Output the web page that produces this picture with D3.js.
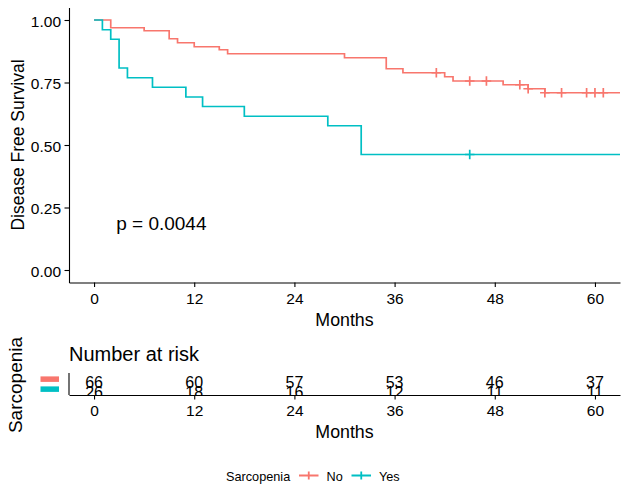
<!DOCTYPE html>
<html>
<head>
<meta charset="utf-8">
<script src="https://cdn.jsdelivr.net/npm/d3@7"></script>
<style>
  body { margin: 0; background: #fff; }
  svg { font-family: "Liberation Sans", Arial, sans-serif; }
</style>
</head>
<body>
<svg width="628" height="500"></svg>
<script>
// survival curves (months, survival probability)
const noTimes = [0, 2, 6, 9, 10, 12, 15, 16, 30, 35, 37, 42, 43, 49, 52, 54, 66];
const noSurv = [1, 0.969, 0.957, 0.925, 0.909, 0.893, 0.881, 0.865, 0.849, 0.805, 0.789, 0.773, 0.756, 0.741, 0.725, 0.709, 0.709];
const noCensor = [41, 45, 47, 51, 52, 54, 56, 59, 60, 61];

const yesTimes = [0, 1, 2, 3, 4, 7, 11, 13, 18, 28, 32, 66];
const yesSurv = [1, 0.961, 0.923, 0.808, 0.769, 0.731, 0.692, 0.654, 0.615, 0.577, 0.462, 0.462];
const yesCensor = [45];

const groups = ['No', 'Yes'];
const colors = ['#F8766D', '#00BFC4'];

const xTicks = [0, 12, 24, 36, 48, 60];
const yTicks = [0, 0.25, 0.5, 0.75, 1];
const riskNo = [66, 60, 57, 53, 46, 37];
const riskYes = [26, 18, 16, 12, 11, 11];
const pLabel = 'p = 0.0044';

const svg = d3.select('svg');
const font = 'Liberation Sans, Arial, sans-serif';

const x = d3.scaleLinear().domain([-3, 63]).range([69, 620]);
const y = d3.scaleLinear().domain([-0.05, 1.05]).range([282.5, 7.5]);

svg.append('clipPath').attr('id', 'panel')
  .append('rect')
    .attr('x', 69).attr('y', 7.5)
    .attr('width', 551).attr('height', 275);

const curves = [
  { times: noTimes, surv: noSurv, censor: noCensor },
  { times: yesTimes, surv: yesSurv, censor: yesCensor }
];

const line = d3.line()
  .x(d => x(d[0]))
  .y(d => y(d[1]))
  .curve(d3.curveStepAfter);

const plot = svg.append('g').attr('clip-path', 'url(#panel)');

curves.forEach((c, i) => {
  const pts = c.times.map((t, j) => [t, c.surv[j]]);
  plot.append('path')
    .attr('d', line(pts))
    .attr('fill', 'none')
    .attr('stroke', colors[i])
    .attr('stroke-width', 1.7);

  // censor marks sit on the step value at that time
  c.censor.forEach(t => {
    const k = d3.bisectRight(c.times, t) - 1;
    const cx = x(t), cy = y(c.surv[k]);
    plot.append('path')
      .attr('d', `M${cx - 4.8},${cy}H${cx + 4.8}M${cx},${cy - 4.8}V${cy + 4.8}`)
      .attr('stroke', colors[i])
      .attr('stroke-width', 1.7);
  });
});

function styleAxis(g, size) {
  g.select('.domain').attr('stroke', '#000').attr('stroke-width', 1.1);
  g.selectAll('.tick line').attr('stroke', '#000').attr('stroke-width', 1.1);
  g.selectAll('.tick text')
    .attr('fill', '#000')
    .style('font-size', size + 'px')
    .style('font-family', font);
}

svg.append('g')
  .attr('transform', 'translate(69,0)')
  .call(d3.axisLeft(y).tickValues(yTicks).tickFormat(d3.format('.2f'))
    .tickSize(4.5).tickSizeOuter(0).tickPadding(3.5))
  .call(g => styleAxis(g, 15.5))
  .call(g => g.selectAll('.tick text').attr('dy', '0.4em'));

svg.append('g')
  .attr('transform', 'translate(0,282.5)')
  .call(d3.axisBottom(x).tickValues(xTicks).tickSize(4.5).tickSizeOuter(0).tickPadding(5.5))
  .call(g => styleAxis(g, 15.5));

svg.append('text')
  .attr('transform', 'translate(24,145) rotate(-90)')
  .attr('text-anchor', 'middle')
  .style('font-size', '17.5px')
  .text('Disease Free Survival');

svg.append('text')
  .attr('x', 344.5).attr('y', 325.5)
  .attr('text-anchor', 'middle')
  .style('font-size', '17.8px')
  .text('Months');

svg.append('text')
  .attr('x', x(2.65)).attr('y', y(0.2) + 10)
  .style('font-size', '19px')
  .text(pLabel);

// ---- number at risk table ----
const rows = d3.scalePoint().domain(groups).range([373, 395]).padding(0.6);

svg.append('text')
  .attr('x', 69).attr('y', 361)
  .style('font-size', '20px')
  .text('Number at risk');

svg.append('clipPath').attr('id', 'tablePanel')
  .append('rect')
    .attr('x', 69).attr('y', 373)
    .attr('width', 551).attr('height', 22);

const table = svg.append('g').attr('clip-path', 'url(#tablePanel)');
[riskNo, riskYes].forEach((vals, i) => {
  table.selectAll(null)
    .data(vals)
    .join('text')
      .attr('x', (d, j) => x(xTicks[j]))
      .attr('y', rows(groups[i]))
      .attr('dy', '0.55em')
      .attr('text-anchor', 'middle')
      .style('font-size', '16px')
      .text(d => d);
});

svg.append('line')
  .attr('x1', 69).attr('x2', 69)
  .attr('y1', 373).attr('y2', 395)
  .attr('stroke', '#000').attr('stroke-width', 1.1);

svg.selectAll('.riskKey')
  .data(groups)
  .join('rect')
    .attr('class', 'riskKey')
    .attr('x', 40.5).attr('width', 18.5)
    .attr('y', d => rows(d) - 2.6).attr('height', 5.5)
    .attr('fill', (d, i) => colors[i]);

svg.append('g')
  .attr('transform', 'translate(0,395)')
  .call(d3.axisBottom(x).tickValues(xTicks).tickSize(4.5).tickSizeOuter(0).tickPadding(5.5))
  .call(g => styleAxis(g, 15.5));

svg.append('text')
  .attr('x', 344.5).attr('y', 438.3)
  .attr('text-anchor', 'middle')
  .style('font-size', '17.8px')
  .text('Months');

svg.append('text')
  .attr('transform', 'translate(22,385) rotate(-90)')
  .attr('text-anchor', 'middle')
  .style('font-size', '19px')
  .text('Sarcopenia');

// ---- legend ----
const legend = svg.append('g');
legend.append('text')
  .attr('x', 226).attr('y', 481)
  .style('font-size', '12.7px')
  .text('Sarcopenia');

const keyX = [299, 351.5];
groups.forEach((gName, i) => {
  const kx = keyX[i], ky = 475.5;
  legend.append('path')
    .attr('d', `M${kx},${ky}H${kx + 19.5}M${kx + 9.75},${ky - 4}V${ky + 4}`)
    .attr('stroke', colors[i])
    .attr('stroke-width', 1.8);
  legend.append('text')
    .attr('x', kx + 27.5).attr('y', 481)
    .style('font-size', '12.7px')
    .text(gName);
});
</script>
</body>
</html>
